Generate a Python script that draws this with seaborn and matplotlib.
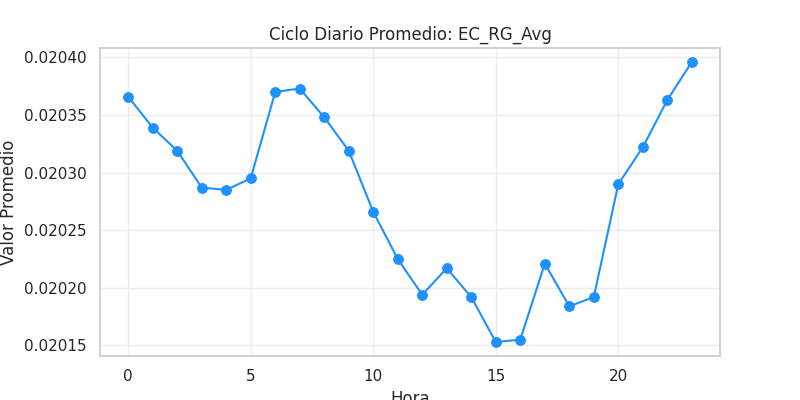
import matplotlib
matplotlib.use("Agg")
import matplotlib.pyplot as plt
import pandas as pd
import seaborn as sns

horas = list(range(24))
valores = [
    0.020366, 0.020339, 0.020319, 0.020287, 0.020285, 0.020295,
    0.020370, 0.020373, 0.020348, 0.020319, 0.020266, 0.020225,
    0.020194, 0.020217, 0.020192, 0.020153, 0.020155, 0.020221,
    0.020184, 0.020192, 0.020290, 0.020322, 0.020363, 0.020396,
]

df = pd.DataFrame({"Hora": horas, "Valor": valores})

sns.set_theme(style="whitegrid")
fig, ax = plt.subplots(figsize=(8, 4), dpi=100)
sns.lineplot(
    data=df, x="Hora", y="Valor", ax=ax,
    color="dodgerblue", marker="o", markersize=7,
    markeredgecolor="dodgerblue", linewidth=1.5,
)
ax.grid(color="#ebebeb")
for s in ax.spines.values():
    s.set_color("#cccccc")
ax.set_title("Ciclo Diario Promedio: EC_RG_Avg")
ax.set_xlabel("Hora")
ax.set_ylabel("Valor Promedio")
fig.savefig("out.png", dpi=100)
